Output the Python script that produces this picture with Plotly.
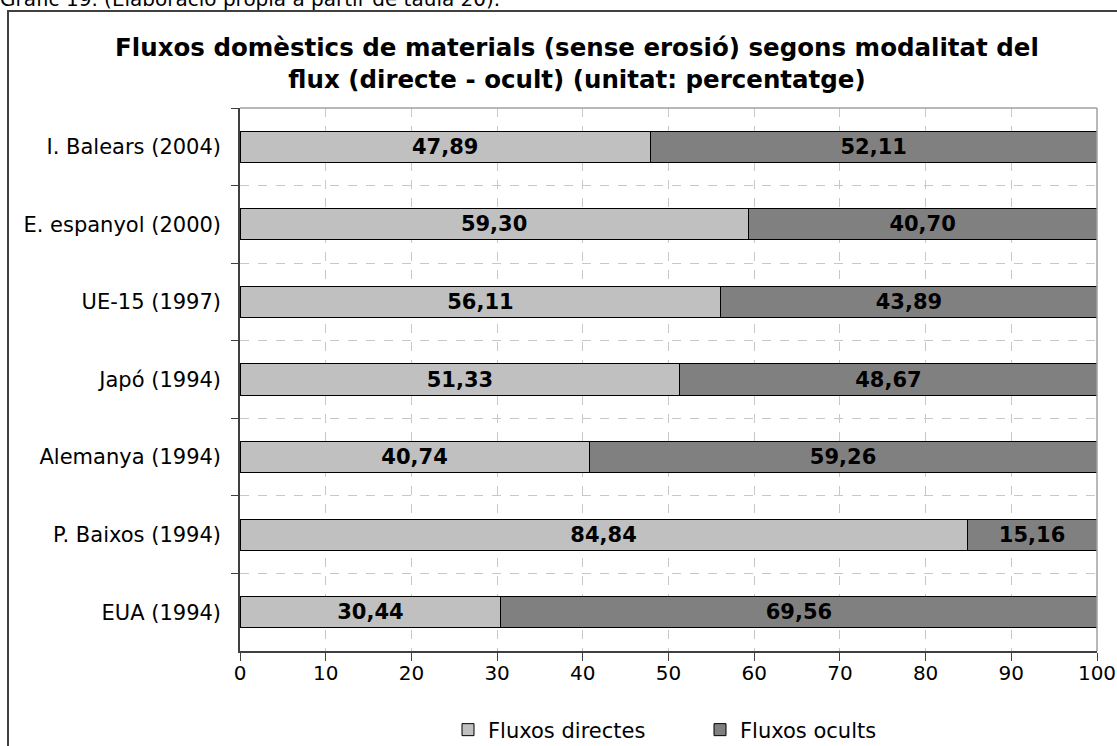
import plotly.graph_objects as go

categories = ['I. Balears (2004)', 'E. espanyol (2000)', 'UE-15 (1997)', 'Japó (1994)',
              'Alemanya (1994)', 'P. Baixos (1994)', 'EUA (1994)']
directes = [47.89, 59.30, 56.11, 51.33, 40.74, 84.84, 30.44]
ocults = [52.11, 40.70, 43.89, 48.67, 59.26, 15.16, 69.56]

FONT = 'DejaVu Sans'

fig = go.Figure()
fig.add_trace(go.Bar(y=categories, x=directes, name='Fluxos directes', orientation='h',
                     marker=dict(color='#c0c0c0', line=dict(color='#000000', width=1))))
fig.add_trace(go.Bar(y=categories, x=ocults, name='Fluxos ocults', orientation='h',
                     marker=dict(color='#808080', line=dict(color='#000000', width=1))))
fig.update_traces(texttemplate='%{x:.2f}', textposition='inside', insidetextanchor='middle',
                  textfont=dict(family=FONT, size=21, color='black', weight='bold'),
                  textangle=0, constraintext='none')

# outer chart-area frame and the grey plot-area border on top/right
shapes = [
    dict(type='rect', xref='paper', yref='paper', x0=(8 - 240) / 857, x1=1.2,
         y0=-0.3, y1=(651 - 11) / 543, line=dict(color='#404040', width=2), layer='below'),
    dict(type='line', xref='paper', yref='paper', x0=0, x1=1, y0=1, y1=1,
         line=dict(color='#a0a0a0', width=1.5)),
    dict(type='line', xref='paper', yref='paper', x0=1, x1=1, y0=0, y1=1,
         line=dict(color='#a0a0a0', width=1.5)),
]

fig.update_layout(
    width=1117, height=746,
    margin=dict(l=240, r=20, t=108, b=95, autoexpand=False),
    barmode='stack', bargap=0.6,
    separators=',.',
    paper_bgcolor='white', plot_bgcolor='white',
    font=dict(family=FONT, size=20, color='black'),
    title=dict(text='<b>Fluxos domèstics de materials (sense erosió) segons modalitat del<br>'
                    'flux (directe - ocult) (unitat: percentatge)</b>',
               font=dict(family=FONT, size=24.5, color='black'),
               xref='container', x=577 / 1117, xanchor='center',
               yref='container', y=1 - 56 / 746, yanchor='top'),
    xaxis=dict(range=[0, 100], dtick=10, showgrid=True, griddash='dash', gridcolor='#c8c8c8',
               ticks='outside', ticklen=8, tickcolor='#404040', showline=True,
               linecolor='#404040', linewidth=1.5, zeroline=False, automargin=False,
               ticklabelstandoff=-5, tickfont=dict(family=FONT, size=20)),
    yaxis=dict(type='category', categoryorder='array', categoryarray=categories,
               autorange='reversed', tickson='boundaries', showgrid=True, griddash='dash',
               gridcolor='#c8c8c8', ticks='outside', ticklen=7, tickcolor='#404040',
               showline=True, linecolor='#404040', linewidth=1.5, ticklabelstandoff=13,
               automargin=False, tickfont=dict(family=FONT, size=21)),
    legend=dict(orientation='h', x=(448 - 240) / 857, xanchor='left',
                y=(651 - 730) / 543, yanchor='middle', entrywidth=207, itemwidth=30,
                font=dict(family=FONT, size=21), traceorder='normal'),
    shapes=shapes,
    annotations=[dict(text='Gràfic 19. (Elaboració pròpia a partir de taula 20).',
                      xref='paper', yref='paper', x=(-2 - 240) / 857, xanchor='left',
                      y=(651 + 1) / 543, yanchor='middle', showarrow=False,
                      font=dict(family=FONT, size=20, color='black'))],
)

fig.write_html('out.html', config={'displayModeBar': False},
               post_script="document.body.style.margin='0';")
